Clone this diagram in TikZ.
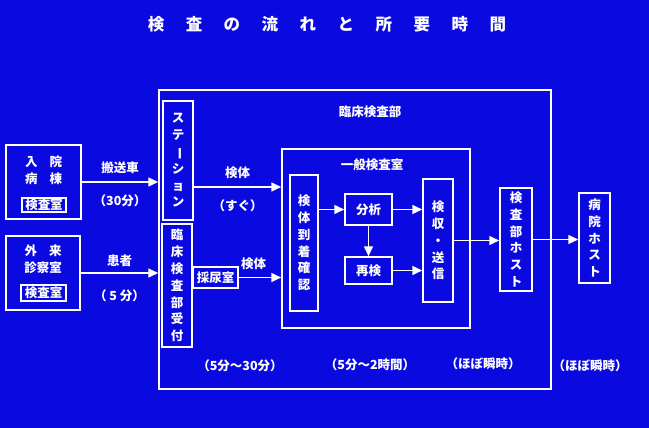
\documentclass[tikz,border=0pt]{standalone}
\usepackage{fontspec}
\setmainfont{Noto Sans CJK JP}
\usetikzlibrary{arrows.meta}
\definecolor{nen}{RGB}{10,10,224}
\tikzset{
	khung/.style={draw=white,line width=1.5pt,inner sep=0pt},
	chu/.style={text=white,font=\bfseries\fontsize{12.5}{16.8}\selectfont,align=center},
	muiten/.style={draw=white,line width=1.5pt,-{Triangle[length=10pt,width=9pt]}},
}
\begin{document}
\begin{tikzpicture}[x=1pt,y=-1pt]
	\useasboundingbox (0,0) rectangle (649,428);
	\fill[nen] (0,0) rectangle (649,428);
	%Tieu de
	\node[chu,font=\bfseries\fontsize{16.5}{18}\selectfont] (tieude) at (327,24) {検\hspace{21.5pt}査\hspace{21.5pt}の\hspace{21.5pt}流\hspace{21.5pt}れ\hspace{21.5pt}と\hspace{21.5pt}所\hspace{21.5pt}要\hspace{21.5pt}時\hspace{21.5pt}間};
	%Khung ngoai 1
	\node[khung,minimum width=75pt,minimum height=74pt] (nyuin) at (43.5,182) {};
	\node[chu] (nyuint) at (43.5,170.5) {入\hspace{12pt}院\\病\hspace{12pt}棟};
	\node[khung,chu,minimum width=44pt,minimum height=14pt] (nyuink) at (44,205) {検査室};
	%Khung ngoai 2
	\node[khung,minimum width=74pt,minimum height=74pt] (gairai) at (43,273) {};
	\node[chu] (gairait) at (43,259.5) {外\hspace{12pt}来\\診察室};
	\node[khung,chu,minimum width=45pt,minimum height=16pt] (gairaik) at (43.5,293) {検査室};
	%Khung lon
	\node[khung,minimum width=392pt,minimum height=299pt] (rinsho) at (355,239.5) {};
	\node[chu] (rinshot) at (370,112) {臨床検査部};
	%Cot 1
	\node[khung,chu,minimum width=30pt,minimum height=119pt] (station) at (178,160.5) {ス\\テ\\\rotatebox[origin=c]{-90}{ー}\\シ\\ョ\\ン};
	\node[khung,chu,minimum width=30pt,minimum height=123pt] (uketsuke) at (177,285.5) {臨\\床\\検\\査\\部\\受\\付};
	\node[khung,chu,minimum width=45pt,minimum height=21pt] (saisui) at (215.5,277.5) {採尿室};
	%Khung giua
	\node[khung,minimum width=188pt,minimum height=179pt] (ippan) at (376,238.5) {};
	\node[chu] (ippant) at (372,165) {一般検査室};
	\node[khung,chu,minimum width=28pt,minimum height=136pt] (tochaku) at (304,243) {検\\体\\到\\着\\確\\認};
	\node[khung,chu,minimum width=47pt,minimum height=31pt] (bunseki) at (368.5,209.5) {分析};
	\node[khung,chu,minimum width=47pt,minimum height=27pt] (saiken) at (368.5,270.5) {再検};
	\node[khung,chu,minimum width=30pt,minimum height=123pt] (kenshu) at (438,240.5) {検\\収\\・\\送\\信};
	%Host
	\node[khung,chu,minimum width=32pt,minimum height=103pt] (host) at (516,239.5) {検\\査\\部\\ホ\\ス\\ト};
	\node[khung,chu,minimum width=31pt,minimum height=90pt] (byoin) at (594.5,238) {病\\院\\ホ\\ス\\ト};
	%Mui ten
	\draw[muiten] (nyuin.east) -- (nyuin.east -| rinsho.west)
		node[chu,midway,above=4pt]{搬送車} node[chu,midway,below=9pt]{（30分）};
	\draw[muiten] (gairai.east) -- (gairai.east -| rinsho.west)
		node[chu,midway,above=2pt]{患者} node[chu,midway,below=13pt]{（ 5 分）};
	\draw[muiten] (station.east |- 0,187) -- (ippan.west |- 0,187)
		node[chu,midway,above=4pt]{検体} node[chu,midway,below=9pt]{（すぐ）};
	\draw[muiten] (saisui.east) -- (saisui.east -| ippan.west)
		node[chu,pos=0.35,above=4pt]{検体};
	\draw[muiten] (tochaku.east |- bunseki.west) -- (bunseki.west);
	\draw[muiten] (bunseki.east) -- (bunseki.east -| kenshu.west);
	\draw[muiten] (bunseki.south) -- (saiken.north);
	\draw[muiten] (saiken.east) -- (saiken.east -| kenshu.west);
	\draw[muiten] (kenshu.east) -- (kenshu.east -| host.west);
	\draw[muiten] (host.east) -- (host.east -| byoin.west);
	%Thoi gian
	\node[chu] (tg1) at (240,366) {（5分～30分）};
	\node[chu] (tg2) at (370,365) {（5分～2時間）};
	\node[chu] (tg3) at (483,364) {（ほぼ瞬時）};
	\node[chu] (tg4) at (590,366) {（ほぼ瞬時）};
\end{tikzpicture}
\end{document}
